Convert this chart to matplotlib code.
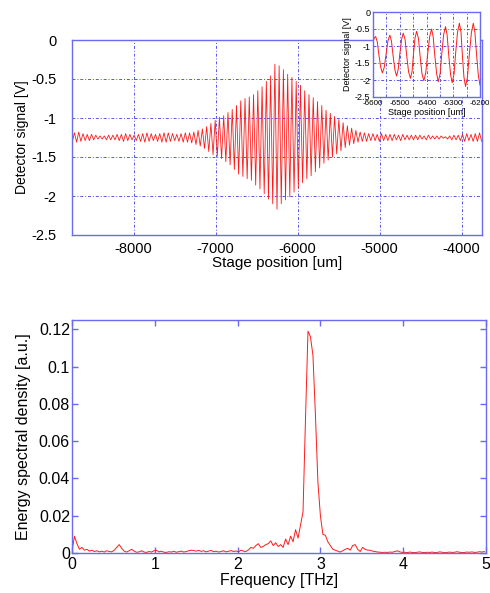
import numpy as np
import matplotlib
matplotlib.use("Agg")
import matplotlib.pyplot as plt
from matplotlib.ticker import MultipleLocator

plt.rcParams['font.family'] = ['Liberation Sans', 'DejaVu Sans']

# ---------------- data: interferogram (extremes) ----------------
peak_start, trough_start, extreme_step = -8720, -8746, 52
peak_vals = [-1.19, -1.18, -1.20, -1.21, -1.21,
             -1.22, -1.23, -1.23, -1.22, -1.22,
             -1.21, -1.21, -1.20, -1.21, -1.22,
             -1.21, -1.20, -1.19, -1.20, -1.21,
             -1.20, -1.19, -1.19, -1.20, -1.21,
             -1.20, -1.19, -1.19,
             -1.18, -1.16, -1.14, -1.11, -1.07, -1.03, -0.99, -0.97, -0.93, -0.89,
             -0.84, -0.78, -0.75, -0.73, -0.70, -0.65, -0.60, -0.53, -0.46, -0.31,
             -0.33, -0.38, -0.44, -0.48, -0.53, -0.58, -0.65, -0.70, -0.74, -0.79,
             -0.84, -0.90, -0.94, -0.98, -1.02, -1.06, -1.10, -1.13, -1.16, -1.18, -1.19,
             -1.20, -1.20, -1.21, -1.20, -1.21, -1.21, -1.21,
             -1.22, -1.21, -1.22, -1.22, -1.22, -1.22, -1.23, -1.22, -1.23, -1.23,
             -1.23, -1.24, -1.23, -1.22, -1.22,
             -1.21, -1.20, -1.21, -1.20, -1.19]
trough_vals = [-1.30, -1.31, -1.30, -1.29, -1.29,
               -1.28, -1.27, -1.27, -1.28, -1.28,
               -1.28, -1.29, -1.30, -1.29, -1.28,
               -1.29, -1.30, -1.31, -1.30, -1.29,
               -1.30, -1.31, -1.31, -1.30, -1.29,
               -1.30, -1.31, -1.31,
               -1.32, -1.34, -1.36, -1.39, -1.43, -1.47, -1.49, -1.52, -1.56, -1.60,
               -1.66, -1.72, -1.75, -1.78, -1.80, -1.86, -1.91, -1.97, -2.04, -2.10,
               -2.17, -2.10, -2.05, -2.01, -1.95, -1.90, -1.83, -1.78, -1.74, -1.69,
               -1.64, -1.58, -1.54, -1.50, -1.46, -1.42, -1.38, -1.35, -1.33, -1.31, -1.30,
               -1.30, -1.29, -1.29, -1.30, -1.29, -1.29, -1.29,
               -1.28, -1.29, -1.28, -1.28, -1.28, -1.28, -1.27, -1.28, -1.27, -1.27,
               -1.27, -1.26, -1.27, -1.28, -1.28,
               -1.29, -1.30, -1.29, -1.30, -1.30, -1.30]

# ---------------- data: inset (zoomed interferogram) ----------------
inset_pos = [-6600, -6595, -6590, -6584, -6578, -6571, -6565, -6558, -6551, -6544,
             -6537, -6531, -6525, -6518, -6512, -6506, -6500, -6493, -6487, -6480,
             -6474, -6467, -6460, -6454, -6449, -6443, -6437, -6430, -6424, -6417,
             -6410, -6403, -6396, -6388, -6381, -6375, -6369, -6362, -6356, -6349,
             -6343, -6336, -6329, -6323, -6317, -6310, -6304, -6297, -6291, -6284,
             -6277, -6271, -6266, -6260, -6254, -6247, -6240, -6232, -6225, -6219,
             -6213, -6206, -6200]
inset_vals = [-0.88, -0.76, -0.72, -0.88, -1.255, -1.63, -1.79, -1.63, -1.235, -0.84,
              -0.68, -0.855, -1.28, -1.705, -1.88, -1.70, -1.25, -0.80, -0.62, -0.81,
              -1.285, -1.76, -1.95, -1.75, -1.26, -0.77, -0.57, -0.78, -1.295, -1.81,
              -2.02, -1.80, -1.26, -0.72, -0.50, -0.73, -1.275, -1.82, -2.05, -1.81,
              -1.24, -0.67, -0.43, -0.67, -1.255, -1.84, -2.08, -1.82, -1.205, -0.59,
              -0.33, -0.60, -1.26, -1.92, -2.19, -1.92, -1.26, -0.60, -0.33, -0.60,
              -1.24, -1.88, -2.15]

# ---------------- data: spectrum ----------------
freq_step = 0.03
esd = [0.001, 0.009, 0.005, 0.002, 0.003, 0.0015, 0.002, 0.001, 0.0015, 0.0008,
       0.0012, 0.0006, 0.001, 0.0005, 0.0012, 0.0008, 0.0006, 0.0015, 0.003, 0.0045,
       0.0025, 0.001, 0.0005, 0.0012, 0.002, 0.001, 0.0004, 0.0006, 0.0012, 0.0005,
       0.0003, 0.0008, 0.0005, 0.0012, 0.0015, 0.0006, 0.001, 0.0004, 0.0003, 0.0007,
       0.0005, 0.0009, 0.0004, 0.0007, 0.001, 0.0005, 0.0008, 0.0012, 0.0015, 0.0013,
       0.001, 0.0014, 0.0009, 0.0012, 0.0006, 0.001, 0.0014, 0.0007, 0.001, 0.0005,
       0.0008, 0.0012, 0.0006, 0.0009, 0.0013, 0.0008, 0.0011, 0.0006, 0.0015, 0.001,
       0.0008, 0.0016, 0.003, 0.0025, 0.004, 0.005, 0.003, 0.0035, 0.0045, 0.005,
       0.0065, 0.004, 0.0055, 0.0035, 0.0045, 0.003, 0.0075, 0.0045, 0.009, 0.006,
       0.0125, 0.008, 0.015, 0.022, 0.072, 0.119, 0.116, 0.106, 0.074, 0.038,
       0.020, 0.010, 0.0095, 0.006, 0.004, 0.002, 0.0015, 0.001, 0.0005, 0.0012,
       0.002, 0.0025, 0.0015, 0.004, 0.0045, 0.002, 0.0008, 0.003, 0.002, 0.0015,
       0.0015, 0.001, 0.0008, 0.0005, 0.0004, 0.0003, 0.0004, 0.0003, 0.0005, 0.0004,
       0.0008, 0.0012, 0.0006, 0.0003, 0.0004, 0.0002, 0.0005, 0.0003, 0.0002, 0.0004,
       0.0006, 0.0003, 0.0002, 0.0004, 0.0003, 0.0005, 0.0002, 0.0003, 0.0006, 0.0004,
       0.0002, 0.0003, 0.0005, 0.0003, 0.0004, 0.0007, 0.0004, 0.0002, 0.0003, 0.0005,
       0.0004, 0.0006, 0.0003, 0.0004, 0.0007, 0.0005, 0.0008]

top_xticks = [-8000, -7000, -6000, -5000, -4000]
top_yticks = [0, -0.5, -1, -1.5, -2, -2.5]
top_yticklabels = ['0', '-0.5', '-1', '-1.5', '-2', '-2.5']
inset_xticks = [-6600, -6500, -6400, -6300, -6200]
bot_yticks = [0, 0.02, 0.04, 0.06, 0.08, 0.1, 0.12]
bot_yticklabels = ['0', '0.02', '0.04', '0.06', '0.08', '0.1', '0.12']
bot_xticks = [0, 1, 2, 3, 4, 5]

# ---------------- build series ----------------
peak_x = peak_start + extreme_step * np.arange(len(peak_vals))
trough_x = trough_start + extreme_step * np.arange(len(trough_vals))
sig_x = np.empty(len(peak_vals) + len(trough_vals))
sig_y = np.empty_like(sig_x)
sig_x[0::2] = trough_x
sig_x[1::2] = peak_x
sig_y[0::2] = trough_vals
sig_y[1::2] = peak_vals
freq = freq_step * np.arange(len(esd))

# ---------------- styling ----------------
BLUE = '#6a6af2'
RED = '#ff1a1a'
GRID_KW = dict(color='#5555ee', linestyle=(0, (3, 2, 1, 2)), linewidth=0.7)

fig = plt.figure(figsize=(4.9, 5.93), dpi=100)

def style(ax):
    for s in ax.spines.values():
        s.set_color(BLUE)
        s.set_linewidth(1.0)
    ax.tick_params(which='both', direction='in', color=BLUE, top=True, right=True,
                   labelcolor='black')

# top axes
ax1 = fig.add_axes([72/490, 1-235/593, 410/490, 195/593])
style(ax1)
ax1.plot(sig_x, sig_y, color=RED, lw=0.6)
ax1.set_xlim(-8750, -3750)
ax1.set_ylim(-2.5, 0)
ax1.set_xticks(top_xticks)
ax1.set_xticklabels([str(v) for v in top_xticks])
ax1.set_yticks(top_yticks)
ax1.set_yticklabels(top_yticklabels)
ax1.tick_params(axis='both', labelsize=10.5, length=0)
ax1.tick_params(axis='y', pad=11)
ax1.tick_params(axis='x', pad=5)
ax1.grid(True, **GRID_KW)
ax1.set_xlabel('Stage position [um]', fontsize=11)
ax1.set_ylabel('Detector signal [V]', fontsize=10)
ax1.xaxis.set_label_coords(0.5, -0.11)
ax1.yaxis.set_label_coords(-0.105, 0.5)

# inset axes
ax2 = fig.add_axes([373/490, 1-97/593, 107/490, 85/593])
style(ax2)
ax2.set_facecolor('white')
ax2.plot(inset_pos, inset_vals, color=RED, lw=0.7)
ax2.set_xlim(-6600, -6200)
ax2.set_ylim(-2.5, 0)
ax2.set_xticks(inset_xticks)
ax2.set_xticklabels([str(v) for v in inset_xticks],
                    family=['Liberation Sans Narrow', 'Liberation Sans'], fontsize=5.8)
ax2.xaxis.set_minor_locator(MultipleLocator(50))
ax2.set_yticks(top_yticks)
ax2.set_yticklabels(top_yticklabels)
ax2.tick_params(axis='both', which='both', length=0)
ax2.tick_params(axis='x', pad=2)
ax2.tick_params(axis='y', labelsize=6.5, pad=2)
ax2.grid(True, which='major', **GRID_KW)
ax2.grid(True, which='minor', axis='x', **GRID_KW)
ax2.set_xlabel('Stage position [um]', fontsize=6.5)
ax2.set_ylabel('Detector signal [V]', fontsize=6.5)
ax2.xaxis.set_label_coords(0.5, -0.13)
ax2.yaxis.set_label_coords(-0.2, 0.5)

# bottom axes
ax3 = fig.add_axes([72/490, 1-553/593, 414/490, 233/593])
style(ax3)
ax3.plot(freq, esd, color=RED, lw=0.7)
ax3.set_xlim(0, 5)
ax3.set_ylim(0, 0.125)
ax3.set_xticks(bot_xticks)
ax3.set_xticklabels([str(v) for v in bot_xticks])
ax3.set_yticks(bot_yticks)
ax3.set_yticklabels(bot_yticklabels)
ax3.tick_params(axis='both', labelsize=11.5, length=4, width=1)
ax3.tick_params(axis='y', pad=1.5)
ax3.tick_params(axis='x', pad=3)
ax3.set_xlabel('Frequency [THz]', fontsize=11.5)
ax3.set_ylabel('Energy spectral density [a.u.]', fontsize=11.5)
ax3.xaxis.set_label_coords(0.5, -0.085)
ax3.yaxis.set_label_coords(-0.1, 0.5)

fig.savefig('out.png', dpi=100)
